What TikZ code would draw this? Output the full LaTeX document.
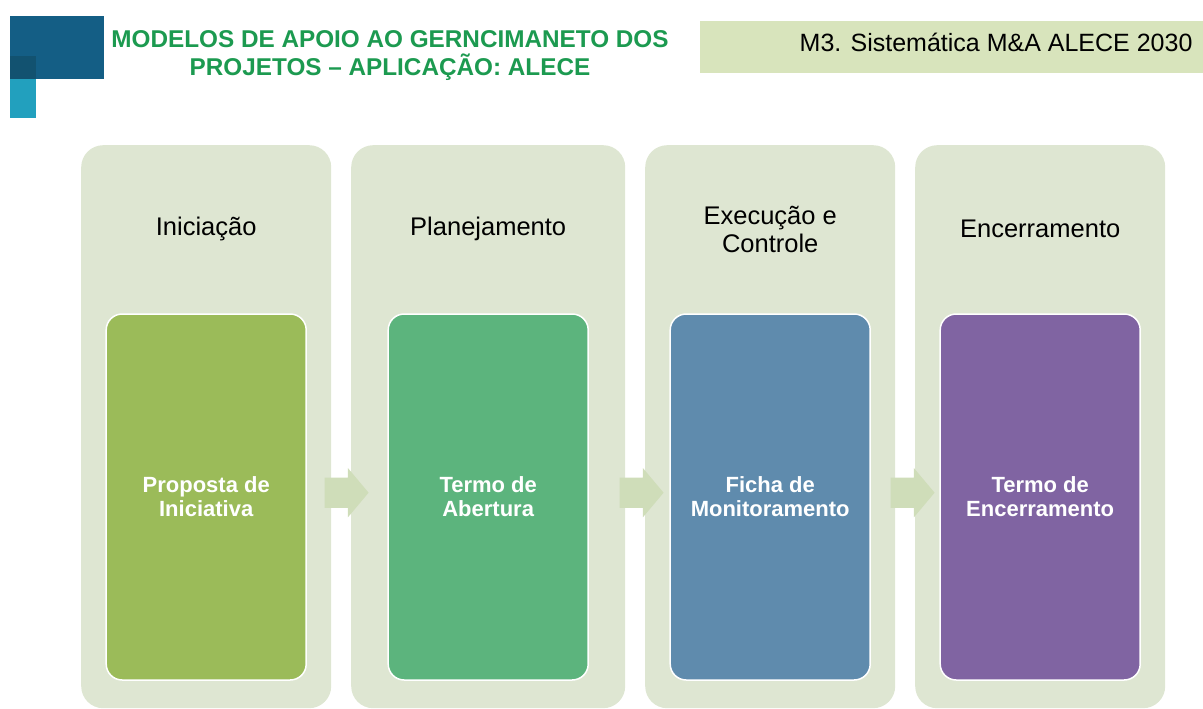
\documentclass[tikz,border=0pt]{standalone}
\usepackage{fontspec}
\setmainfont{Liberation Sans}
\usetikzlibrary{calc,%
		positioning,%
		shapes.arrows}

\definecolor{phasebg}{RGB}{222,230,210}
\definecolor{flowbg}{RGB}{207,221,185}
\definecolor{headbg}{RGB}{216,228,188}
\definecolor{titlegreen}{RGB}{28,154,80}
\definecolor{logodark}{RGB}{20,94,133}
\definecolor{logolight}{RGB}{34,160,190}
\definecolor{logomix}{RGB}{18,82,112}
\definecolor{boxa}{RGB}{155,187,89}
\definecolor{boxb}{RGB}{92,180,125}
\definecolor{boxc}{RGB}{95,139,173}
\definecolor{boxd}{RGB}{128,100,162}

\begin{document}
\begin{tikzpicture}[x=1pt,y=-1pt,
  phase/.style={fill=phasebg,rounded corners=22pt,minimum height=563pt,
    anchor=north west,inner sep=0pt},
  phasename/.style={font=\fontsize{25.5}{28}\selectfont,align=center},
  doc/.style={draw=white,line width=1.5pt,rounded corners=16pt,
    minimum width=200pt,minimum height=366pt,text=white,align=center,
    font=\bfseries\fontsize{22}{24}\selectfont},
  flow/.style={single arrow,fill=flowbg,minimum height=44pt,
    inner xsep=0pt,inner ysep=15pt,single arrow head extend=9.5pt,
    single arrow tip angle=100}]

  \useasboundingbox (0,0) rectangle (1203,709);

  % logo
  \fill[logodark] (10,16) rectangle (104,79);
  \fill[logolight] (10,56) rectangle (36,118);
  \fill[logomix] (10,56) rectangle (36,79);

  % header
  \node[font=\bfseries\fontsize{24.3}{28}\selectfont,text=titlegreen,align=center]
    (title) at (390,56) {MODELOS DE APOIO AO GERNCIMANETO DOS\\PROJETOS -- APLICAÇÃO: ALECE};
  \fill[headbg] (700,21) rectangle (1203,73);
  \node[font=\fontsize{25}{30}\selectfont,anchor=east] (ref) at (1196,42)
    {M3. Sistemática M\&A ALECE 2030};

  % phases
  \node[phase,minimum width=250pt] (p1) at (81,145) {};
  \node[phase,minimum width=274pt] (p2) at (351,145) {};
  \node[phase,minimum width=250pt] (p3) at (645,145) {};
  \node[phase,minimum width=250pt] (p4) at (915,145) {};

  \node[phasename] (n1) at ($(p1.north)+(0,84)$) {Iniciação};
  \node[phasename] (n2) at ($(p2.north)+(0,84)$) {Planejamento};
  \node[phasename] (n3) at ($(p3.north)+(0,84)$) {Execução e\\Controle};
  \node[phasename] (n4) at ($(p4.north)+(0,84)$) {Encerramento};

  \node[doc,fill=boxa] (d1) at ($(p1.north)+(0,352)$) {Proposta de\\Iniciativa};
  \node[doc,fill=boxb] (d2) at ($(p2.north)+(0,352)$) {Termo de\\Abertura};
  \node[doc,fill=boxc] (d3) at ($(p3.north)+(0,352)$) {Ficha de\\Monitoramento};
  \node[doc,fill=boxd] (d4) at ($(p4.north)+(0,352)$) {Termo de\\Encerramento};

  % arrows between phases
  \node[flow] (a1) at ($(p1.east)!0.5!(p2.west)+(-1,66)$) {};
  \node[flow] (a2) at ($(p2.east)!0.5!(p3.west)+(0,66)$) {};
  \node[flow] (a3) at ($(p3.east)!0.5!(p4.west)+(1,66)$) {};

\end{tikzpicture}
\end{document}
